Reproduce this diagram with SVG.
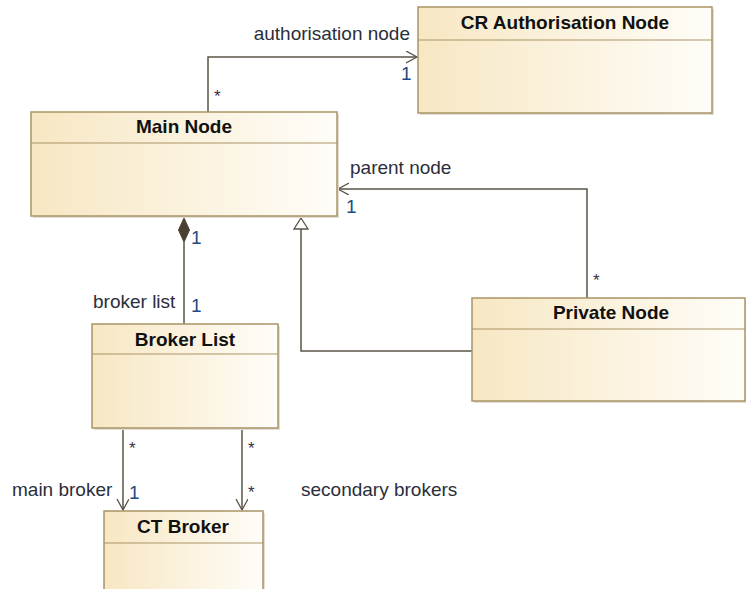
<svg xmlns="http://www.w3.org/2000/svg" width="746" height="589" viewBox="0 0 746 589">
  <style>
    .box { fill: url(#classFill); stroke: #a99466; stroke-width: 1.5; }
    .shadow { fill: #e2ded6; }
    .div { stroke: #a99466; stroke-width: 1.2; }
    .title { font-family: "Liberation Sans", Arial, sans-serif; font-size: 19px; font-weight: bold; fill: #111; text-anchor: middle; }
    .lbl { font-family: "Liberation Sans", Arial, sans-serif; font-size: 19px; fill: #2a2e3a; }
    .num { font-family: "Liberation Sans", Arial, sans-serif; font-size: 19px; fill: #234a80; }
    .star { font-family: "Liberation Sans", Arial, sans-serif; font-size: 17px; fill: #3a3040; }
    .edge { fill: none; stroke: #5b5445; stroke-width: 1.5; }
  </style>
  <defs>
    <linearGradient id="classFill" x1="0" y1="0" x2="1" y2="0">
      <stop offset="0" stop-color="#f7e7c3"/>
      <stop offset="1" stop-color="#fffdf8"/>
    </linearGradient>
    <marker id="openArrow" markerWidth="14" markerHeight="14" refX="11" refY="6" orient="auto" markerUnits="userSpaceOnUse">
      <path d="M0,0 L11,6 L0,12" fill="none" stroke="#5b5445" stroke-width="1.3"/>
    </marker>
  </defs>

  <rect width="746" height="589" fill="#ffffff"/>

  <!-- connectors -->
  <g id="connectors">
    <!-- Main Node -> CR Authorisation Node -->
    <path class="edge" d="M208,112 V57 H417" marker-end="url(#openArrow)"/>
    <!-- Private Node -> Main Node (parent node) -->
    <path class="edge" d="M587,298 V189 H338" marker-end="url(#openArrow)"/>
    <!-- Private Node generalises Main Node -->
    <path class="edge" d="M472,351 H301 V229"/>
    <polygon points="301,218 308,229 294,229" fill="#ffffff" stroke="#5b5445" stroke-width="1.3"/>
    <!-- Main Node composition of Broker List -->
    <path class="edge" d="M184,242 V324"/>
    <polygon points="184,218 189.5,230 184,242 178.5,230" fill="#4a4032" stroke="#4a4032" stroke-width="1"/>
    <!-- Broker List -> CT Broker -->
    <path class="edge" d="M123,428 V510" marker-end="url(#openArrow)"/>
    <path class="edge" d="M242,428 V510" marker-end="url(#openArrow)"/>

    <text class="lbl" x="410" y="40" text-anchor="end">authorisation node</text>
    <text class="num" x="401" y="80">1</text>
    <text class="star" x="214" y="102">*</text>

    <text class="lbl" x="350" y="174">parent node</text>
    <text class="num" x="346" y="213">1</text>
    <text class="star" x="593" y="286">*</text>

    <text class="num" x="191" y="244">1</text>
    <text class="lbl" x="93" y="308">broker list</text>
    <text class="num" x="191" y="312">1</text>

    <text class="star" x="129" y="454">*</text>
    <text class="star" x="248" y="454">*</text>
    <text class="lbl" x="12" y="496">main broker</text>
    <text class="num" x="129" y="499">1</text>
    <text class="star" x="248" y="498">*</text>
    <text class="lbl" x="301" y="496">secondary brokers</text>
  </g>

  <!-- classes -->
  <g id="cr-authorisation-node">
    <rect class="shadow" x="420" y="9" width="294" height="106"/>
    <rect class="box" x="418" y="7" width="294" height="106"/>
    <line class="div" x1="418" y1="40" x2="712" y2="40"/>
    <text class="title" x="565" y="29">CR Authorisation Node</text>
  </g>

  <g id="main-node">
    <rect class="shadow" x="33" y="114" width="306" height="104"/>
    <rect class="box" x="31" y="112" width="306" height="104"/>
    <line class="div" x1="31" y1="143" x2="337" y2="143"/>
    <text class="title" x="184" y="133">Main Node</text>
  </g>

  <g id="private-node">
    <rect class="shadow" x="474" y="300" width="273" height="103"/>
    <rect class="box" x="472" y="298" width="273" height="103"/>
    <line class="div" x1="472" y1="329" x2="745" y2="329"/>
    <text class="title" x="611" y="319">Private Node</text>
  </g>

  <g id="broker-list">
    <rect class="shadow" x="94" y="326" width="186" height="104"/>
    <rect class="box" x="92" y="324" width="186" height="104"/>
    <line class="div" x1="92" y1="354" x2="278" y2="354"/>
    <text class="title" x="185" y="346">Broker List</text>
  </g>

  <g id="ct-broker">
    <rect class="shadow" x="106" y="513" width="159" height="90"/>
    <rect class="box" x="104" y="511" width="159" height="90"/>
    <line class="div" x1="104" y1="543" x2="263" y2="543"/>
    <text class="title" x="183" y="533">CT Broker</text>
  </g>
</svg>
